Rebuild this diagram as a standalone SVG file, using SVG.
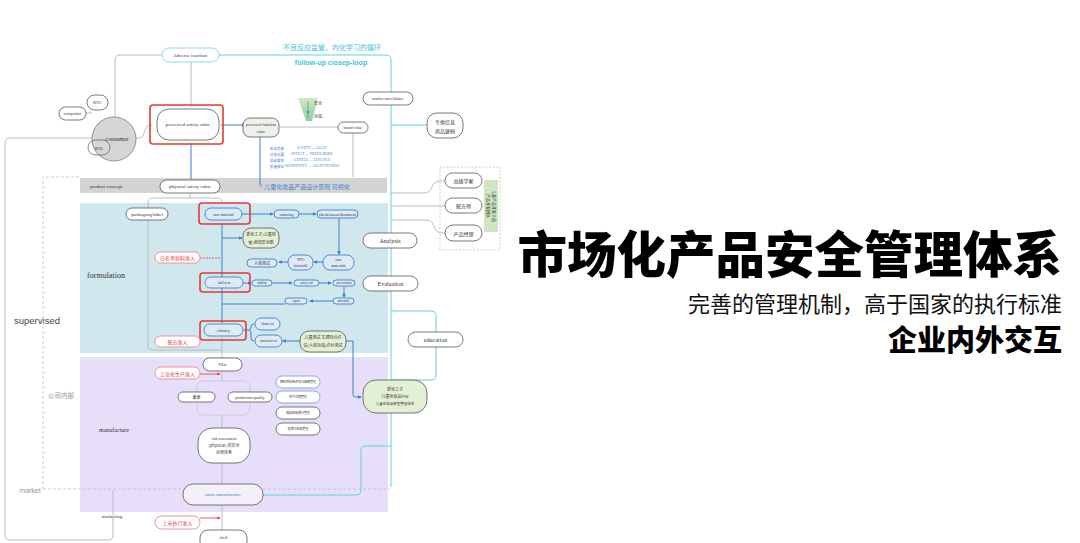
<svg xmlns="http://www.w3.org/2000/svg" width="1080" height="543" viewBox="0 0 1080 543">
<defs>
<marker id="ab" viewBox="0 0 6 6" refX="5" refY="3" markerWidth="4" markerHeight="4" orient="auto"><path d="M0,0 L6,3 L0,6 z" fill="#3f7fcf"/></marker>
<marker id="ar" viewBox="0 0 6 6" refX="5" refY="3" markerWidth="4" markerHeight="4" orient="auto"><path d="M0,0 L6,3 L0,6 z" fill="#e53935"/></marker>
<linearGradient id="fun" x1="0" y1="0" x2="0" y2="1"><stop offset="0" stop-color="#cfe8c8"/><stop offset="1" stop-color="#8fcf9a"/></linearGradient>
</defs>
<style>
text{font-family:"Liberation Serif","Noto Sans CJK SC",serif;fill:#333;text-anchor:middle;dominant-baseline:central}
.cn{font-family:"Noto Sans CJK SC",sans-serif}
.p{fill:#fff;stroke:#555;stroke-width:0.8}
.pb{fill:#dcebf7;stroke:#3f7fcf;stroke-width:0.9}
.pg{fill:#e4f0d4;stroke:#555;stroke-width:0.8}
.pr{fill:#fff;stroke:#e88a8a;stroke-width:0.9}
.rb{fill:none;stroke:#e53935;stroke-width:1.6}
.t5{font-size:5px}
.t6{font-size:6px}
.t4{font-size:4px}
.red{fill:#e53935}
.blue{fill:#3f7fcf}
.cy{stroke:#5fd3df;stroke-width:1;fill:none}
.gl{stroke:#b7bec6;stroke-width:1;fill:none}
.bl{stroke:#3f7fcf;stroke-width:1;fill:none}
.rl{stroke:#e53935;stroke-width:0.8;fill:none}
.dl{stroke:#c4c4c4;stroke-width:0.8;stroke-dasharray:3 2;fill:none}
</style>
<rect width="1080" height="543" fill="#fff"/>

<!-- bands -->
<g id="bands">
<rect x="80" y="178" width="307" height="15" fill="#d3d3d3"/>
<rect x="80" y="203" width="308" height="150" fill="#cfe7ed"/>
<rect x="80" y="357" width="308" height="155" fill="#e7defa"/>
<text x="106" y="186" class="t5">product concept</text>
<text x="106" y="275" style="font-size:8px">formulation</text>
<text x="114" y="430" class="t6">manufacture</text>
<text x="37" y="320" style="font-family:'Liberation Sans',sans-serif;font-size:9.5px;fill:#444">supervised</text>
<text x="61" y="395" class="cn" style="font-size:6.5px;fill:#999">公司内部</text>
<text x="30" y="490" style="font-family:'Liberation Sans',sans-serif;font-size:7px;fill:#999">market</text>
<text x="112" y="516" class="t5">marketing</text>
</g>

<!-- connectors -->
<g id="connectors">
<path class="dl" d="M43,489 V177 H80 M43,489 H390"/>
<path class="gl" d="M92,138 H10 Q5,138 5,143 V535 Q5,540 10,540 H108 Q113,540 113,535 V490"/>
<path class="gl" d="M162,55 H120 Q115,55 115,60 V117"/>
<path class="gl" d="M191,62 V107"/>
<path class="gl" d="M136,138 H140 Q143,138 144,133 L146,128 Q147,125 152,125"/>
<path class="gl" d="M86,113 H92"/>
<path class="cy" d="M218,55 H386 Q391,55 391,60 V487"/>
<path class="cy" d="M391,125 H427"/>
<path class="cy" d="M391,311 H431 Q436,311 436,316 V375 Q436,380 431,380 H391"/>
<path class="cy" d="M263,495 H356 Q361,495 361,490 V451 Q361,446 366,446 H391"/>
<path class="gl" d="M391,193 H424 Q430,193 432,187 Q434,181 440,181 H445"/>
<path class="gl" d="M391,206 H445"/>
<path class="gl" d="M391,220 H426 Q432,220 434,226 Q436,233 442,233 H445"/>
<path class="bl" d="M221,125 H245" marker-end="url(#ab)"/>
<path class="gl" d="M280,127 H338"/>
<path class="gl" d="M353,133 V177"/>
<path class="bl" d="M191,143 V179"/>
<path class="bl" d="M260,137 V184 Q260,186 262,186"/>
<path class="gl" d="M190,193 V198 H153 Q148,198 148,203 V345 Q148,350 153,350 H222"/>
<path class="gl" d="M190,198 H217 Q222,198 222,203"/>
<path class="bl" d="M222,224 V323"/>
<path class="gl" d="M222,338 V358 M222,371 V381 M222,415 V428 M222,463 V483 M222,505 V530"/>
<path class="gl" d="M197,397 H200 M250,397 H246"/>
<path class="bl" d="M242,214 H273" marker-end="url(#ab)"/>
<path class="bl" d="M299,214 H316" marker-end="url(#ab)"/>
<path class="bl" d="M339,218 V254" marker-end="url(#ab)"/>
<path class="bl" d="M323,262 H314" marker-end="url(#ab)"/>
<path class="bl" d="M288,262 H279" marker-end="url(#ab)"/>
<path class="bl" d="M222,238 H242" marker-end="url(#ab)"/>
<path class="bl" d="M243,283 H251" marker-end="url(#ab)"/>
<path class="bl" d="M272,283 H292" marker-end="url(#ab)"/>
<path class="bl" d="M319,283 H331" marker-end="url(#ab)"/>
<path class="bl" d="M344,287 V297" marker-end="url(#ab)"/>
<path class="bl" d="M333,301 H310" marker-end="url(#ab)"/>
<path class="bl" d="M285,304 H222"/>
<path class="bl" d="M244,330 H249 Q251,330 251,327 V327 Q251,324 254,324 M249,330 Q251,330 251,334 V338 Q251,341 254,341"/>
<path class="bl" d="M300,341 H283" marker-end="url(#ab)"/>
<path class="bl" d="M346,341 H353 V395 Q353,397 356,397 H361" marker-end="url(#ab)"/>
<path class="rl" d="M200,258 H221" stroke-dasharray="2 1"/>
<path class="rl" d="M200,374 H220" marker-end="url(#ar)"/>
<path class="rl" d="M200,518 H220" marker-end="url(#ar)"/>
<rect x="197" y="381" width="53" height="34" rx="6" fill="none" stroke="#c8c4d4" stroke-width="0.8"/>
</g>

<!-- nodes -->
<g id="adverse"><rect x="162" y="48" width="57" height="14" rx="7" fill="#fff" stroke="#8fdbe3" stroke-width="1"/><text x="190" y="55" class="t5">Adverse reaction</text></g>
<g id="cyan-labels"><text x="332" y="47" class="cn" style="font-size:7px;fill:#3ec5d6">不良反应监管，内化学习的循环</text><text x="331" y="62" style="font-family:'Liberation Sans',sans-serif;font-size:7px;font-weight:bold;fill:#3ec5d6">follow-up closep-loop</text></g>
<g id="competitor"><rect x="59" y="107" width="27" height="13" rx="6.5" class="p"/><text x="72.5" y="113.5" class="t4">competitor</text></g>
<g id="koc"><rect x="87" y="95" width="21" height="15" rx="7.5" class="p"/><text x="97.5" y="102.5" class="t4">KOC</text></g>
<g id="consumer"><circle cx="114" cy="139" r="22" fill="#d6d6d6" stroke="#7d8a98" stroke-width="0.9"/><text x="117" y="139" class="t6">consumer</text><rect x="88" y="140" width="22" height="15" rx="7.5" fill="none" stroke="#555" stroke-width="0.7"/><text x="99" y="148" class="t4">KOL</text></g>
<g id="perceived-safety"><rect x="157" y="109" width="62" height="31" rx="12" class="p"/><rect x="150" y="105" width="73" height="39" rx="3" class="rb"/><text x="188" y="124.5" class="t5">perceived safety value</text></g>
<g id="perceived-function"><rect x="243" y="118" width="36" height="19" rx="7" fill="#eef1ea" stroke="#555" stroke-width="0.8"/><text x="261" y="124" class="t4">perceived function</text><text x="261" y="131" class="t4">value</text></g>
<g id="funnel"><path d="M298,98 L318,98 L312,121 L306,121 z" fill="url(#fun)"/><path d="M308,101 V118" stroke="#3f7fcf" stroke-width="0.6"/><circle cx="308" cy="112" r="1.3" fill="#2b9bd6"/><text x="318" y="103" class="cn" style="font-size:4px">安全</text><text x="318" y="116" class="cn" style="font-size:4px">功效</text></g>
<g id="brand-value"><rect x="338" y="122" width="30" height="11" rx="5.5" class="p"/><text x="353" y="127.5" class="t4">brand value</text></g>
<g id="market-surveillance"><rect x="363" y="92" width="50" height="13" rx="6.5" class="p"/><text x="388" y="98.5" class="t4">market surveillance</text></g>
<g id="info-archive"><rect x="427" y="113" width="36" height="25" rx="10" class="p"/><text x="445" y="121" class="cn t5">专供信息</text><text x="445" y="130" class="cn t5">商品建档</text></g>
<g id="safety-text" style="font-size:3.6px">
<text x="277" y="148" class="cn blue" style="font-size:3.6px">安全信息</text><text x="312" y="148" class="blue" style="font-size:3.6px">SAFETY — ALLST</text>
<text x="277" y="154" class="cn blue" style="font-size:3.6px">功效必要</text><text x="312" y="154" class="blue" style="font-size:3.6px">EFFECT — NEEDS MORE</text>
<text x="277" y="160" class="cn blue" style="font-size:3.6px">温和要求</text><text x="312" y="160" class="blue" style="font-size:3.6px">GENTLE — ADVANCE</text>
<text x="277" y="166" class="cn blue" style="font-size:3.6px">质量保证</text><text x="312" y="166" class="blue" style="font-size:3.6px">SENSITIVITY — ADAPT TO KIDS</text>
</g>
<g id="design-principle"><text x="307" y="186" class="cn blue" style="font-size:6px">儿童化妆品产品设计原则 可视化</text></g>
<g id="physical-safety"><rect x="160" y="180" width="60" height="13" rx="6.5" class="p"/><text x="190" y="186.5" class="t5">physical safety value</text></g>
<g id="packaging"><rect x="126" y="208" width="42" height="12" rx="6" class="p"/><text x="147" y="214" class="t5">packaging/label</text></g>
<g id="raw-material"><rect x="205" y="208" width="37" height="12" rx="6" class="pb"/><rect x="199" y="203" width="51" height="21" rx="3" class="rb"/><text x="223.5" y="214" class="t4">raw material</text></g>
<g id="sourcing"><rect x="274" y="210" width="25" height="8" rx="4" class="pb"/><text x="286.5" y="214" class="t4">sourcing</text></g>
<g id="check"><rect x="317" y="210" width="41" height="8" rx="4" class="pb"/><text x="337.5" y="214" class="t4">check/assess/document</text></g>
<g id="green-1"><rect x="243" y="228" width="36" height="20" rx="8" class="pg"/><text x="261" y="234" class="cn t4">新化工子/儿童用</text><text x="261" y="242" class="cn t4">量/添加安全数</text></g>
<g id="whitelist"><rect x="155" y="252" width="45" height="11" rx="5.5" class="pr"/><text x="177.5" y="257.5" class="cn t5 red">白名单原料准入</text></g>
<g id="human-test"><rect x="247" y="259" width="30" height="8" rx="4" class="pb"/><text x="262" y="263" class="cn t4">人体测试</text></g>
<g id="tpo"><rect x="288" y="255" width="25" height="15" rx="7" class="pb"/><text x="300.5" y="259.5" class="t4">TPO</text><text x="300.5" y="265.5" class="t4">(toxicol)</text></g>
<g id="raw-materials"><rect x="323" y="255" width="31" height="15" rx="7" class="pb"/><text x="338.5" y="259.5" class="t4">raw</text><text x="338.5" y="265.5" class="t4">materials</text></g>
<g id="analysis"><rect x="363" y="233" width="54" height="15" rx="7.5" class="p"/><text x="390" y="240.5" class="t6">Analysis</text></g>
<g id="full-test"><rect x="205" y="277" width="38" height="11" rx="5.5" class="pb"/><rect x="200" y="273" width="50" height="19" rx="3" class="rb"/><text x="224" y="282.5" class="t4">full test</text></g>
<g id="stability"><rect x="252" y="280" width="20" height="6" rx="3" class="pb"/><text x="262" y="283" style="font-size:3px">stability</text></g>
<g id="safety-eval"><rect x="294" y="280" width="25" height="6" rx="3" class="pb"/><text x="306.5" y="283" style="font-size:3px">safety eval</text></g>
<g id="preservation"><rect x="333" y="280" width="22" height="6" rx="3" class="pb"/><text x="344" y="283" style="font-size:3px">preservation</text></g>
<g id="microbial"><rect x="333" y="298" width="21" height="6" rx="3" class="pb"/><text x="343.5" y="301" style="font-size:3px">microbial</text></g>
<g id="report"><rect x="285" y="298" width="22" height="6" rx="3" class="pb"/><text x="296" y="301" style="font-size:3px">report</text></g>
<g id="evaluation"><rect x="363" y="276" width="55" height="15" rx="7.5" class="p"/><text x="390.5" y="283.5" class="t6">Evaluation</text></g>
<g id="efficacy"><rect x="204" y="324" width="39" height="12" rx="6" class="pb"/><rect x="200" y="321" width="46" height="19" rx="3" class="rb"/><text x="223.5" y="330" class="t4">efficacy</text></g>
<g id="claims"><rect x="255" y="318" width="25" height="12" rx="6" class="pb"/><text x="267.5" y="324" style="font-size:3px">claims test</text></g>
<g id="functional"><rect x="255" y="335" width="27" height="12" rx="6" class="pb"/><text x="268.5" y="341" style="font-size:3px">functional test</text></g>
<g id="green-2"><rect x="300" y="331" width="46" height="21" rx="9" class="pg"/><text x="323" y="337" class="cn t4">儿童测试 生理特点评</text><text x="323" y="345" class="cn t4">估/人体功效/评价测试</text></g>
<g id="formula-admit"><rect x="155" y="336" width="45" height="11" rx="5.5" class="pr"/><text x="177.5" y="341.5" class="cn t5 red">配方准入</text></g>
<g id="education"><rect x="408" y="332" width="55" height="15" rx="7.5" class="p"/><text x="435.5" y="339.5" class="t6">education</text></g>
<g id="experts"><rect x="440" y="167" width="60" height="83" fill="none" stroke="#bbb" stroke-width="0.7" stroke-dasharray="2 1.5"/>
<rect x="445" y="173" width="37" height="15" rx="7.5" class="p"/><text x="463.5" y="180.5" class="cn t5">高级学家</text>
<rect x="445" y="198" width="37" height="15" rx="7.5" class="p"/><text x="463.5" y="205.5" class="cn t5">配方师</text>
<rect x="445" y="225" width="37" height="16" rx="8" class="p"/><text x="463.5" y="233" class="cn t5">产品经理</text>
<rect x="484" y="180" width="14" height="52" fill="#cfe6c2"/>
<text x="488" y="206" class="cn" style="font-size:4px" transform="rotate(90 488 206)">产品开发团队</text>
<text x="494" y="206" class="cn" style="font-size:4px" transform="rotate(90 494 206)">儿童产品开发人员</text></g>
<g id="pilot"><rect x="203" y="358" width="39" height="13" rx="6.5" class="p"/><text x="222.5" y="364.5" class="t4">Pilot</text></g>
<g id="industrial-admit"><rect x="155" y="367" width="45" height="12" rx="6" class="pr"/><text x="177.5" y="373" class="cn t5 red">工业化生产准入</text></g>
<g id="filing"><rect x="178" y="392" width="37" height="10" rx="5" class="p"/><text x="196.5" y="397" class="cn t4">备案</text></g>
<g id="production-quality"><rect x="228" y="392" width="44" height="10" rx="5" class="p"/><text x="250" y="397" class="t4">production quality</text></g>
<g id="list-1"><rect x="276" y="376" width="44" height="12" rx="6" fill="#fff" stroke="#6b9bd8" stroke-width="0.8"/><text x="298" y="382" class="cn" style="font-size:3px">原料供应商评估与审核管理</text></g>
<g id="list-2"><rect x="276" y="391" width="44" height="12" rx="6" fill="#fff" stroke="#6b9bd8" stroke-width="0.8"/><text x="298" y="397" class="cn" style="font-size:3px">生产过程管理</text></g>
<g id="list-3"><rect x="276" y="407" width="44" height="12" rx="6" class="p"/><text x="298" y="413" class="cn" style="font-size:3px">成品检验放行管理</text></g>
<g id="list-4"><rect x="276" y="423" width="44" height="12" rx="6" class="p"/><text x="298" y="429" class="cn" style="font-size:3px">追溯与召回管理</text></g>
<g id="risk"><rect x="198" y="428" width="52" height="35" rx="14" class="p"/><text x="224" y="438" class="t4">risk assessment</text><text x="224" y="445" class="cn t4">(physical) 的安全</text><text x="224" y="452" class="cn t4">运营体系</text></g>
<g id="green-3"><rect x="363" y="380" width="64" height="33" rx="13" class="pg"/><text x="395" y="389" class="cn t4">新化工子</text><text x="395" y="396" class="cn t4">儿童化妆品PSe</text><text x="395" y="403" class="cn" style="font-size:3.5px">儿童化妆品新型管理体系</text></g>
<g id="mass"><rect x="183" y="484" width="80" height="21" rx="10" fill="#f3f0fa" stroke="#555" stroke-width="0.8"/><text x="223" y="494.5" class="t5 blue">mass manufacture</text></g>
<g id="market-admit"><rect x="155" y="516" width="45" height="13" rx="6.5" class="pr"/><text x="177.5" y="522.5" class="cn t5 red">上市执行准入</text></g>
<g id="shelf"><rect x="200" y="530" width="47" height="20" rx="8" class="p"/><text x="223.5" y="537" class="t4">shelf</text></g>

<!-- title -->
<g id="title">
<text x="1062" y="273" class="cn" style="font-size:49.5px;font-weight:900;fill:#000;text-anchor:end;dominant-baseline:auto">市场化产品安全管理体系</text>
<text x="1062" y="312" class="cn" style="font-size:22px;fill:#111;text-anchor:end;dominant-baseline:auto">完善的管理机制，高于国家的执行标准</text>
<text x="1062" y="351" class="cn" style="font-size:29px;font-weight:900;fill:#000;text-anchor:end;dominant-baseline:auto">企业内外交互</text>
</g>
</svg>
